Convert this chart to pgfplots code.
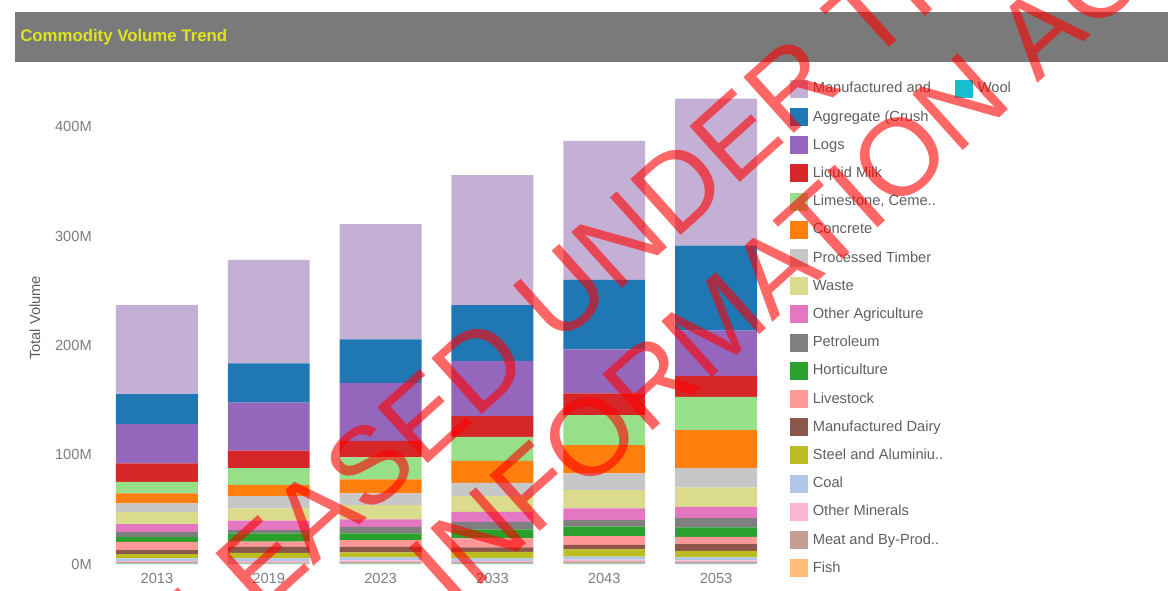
\documentclass[border=0pt]{standalone}
\usepackage{pgfplots}
\pgfplotsset{compat=1.18}
\usepackage{pgfplotstable}
\usepackage{fontspec}
\setmainfont{Liberation Sans}

% d3 category20 palette, as used by the report
\definecolor{cMan}{HTML}{C5B0D5}
\definecolor{cAgg}{HTML}{1F77B4}
\definecolor{cLogs}{HTML}{9467BD}
\definecolor{cMilk}{HTML}{D62728}
\definecolor{cLime}{HTML}{98DF8A}
\definecolor{cConc}{HTML}{FF7F0E}
\definecolor{cTimb}{HTML}{C7C7C7}
\definecolor{cWaste}{HTML}{DBDB8D}
\definecolor{cOAg}{HTML}{E377C2}
\definecolor{cPet}{HTML}{7F7F7F}
\definecolor{cHort}{HTML}{2CA02C}
\definecolor{cLive}{HTML}{FF9896}
\definecolor{cDairy}{HTML}{8C564B}
\definecolor{cSteel}{HTML}{BCBD22}
\definecolor{cCoal}{HTML}{AEC7E8}
\definecolor{cOMin}{HTML}{F7B6D2}
\definecolor{cMeat}{HTML}{C49C94}
\definecolor{cFish}{HTML}{FFBB78}
\definecolor{cWool}{HTML}{17BECF}
\definecolor{titlebar}{RGB}{122,122,122}
\definecolor{titletext}{RGB}{222,228,30}
\definecolor{ticktext}{RGB}{125,125,125}
\definecolor{legtext}{RGB}{95,95,95}

% volumes in millions, one row per year (x = 0..5)
\pgfplotstableread{
x Man   Agg  Logs Milk Lime Conc Timb Waste OAg  Pet Hort Live Dairy Steel Coal OMin Meat Fish Wool
0 81.4  27.4 36.0 16.8 10.6 9.1  7.7  11.3  7.0  4.6 4.6  7.6  3.7   3.9   2.3  1.0  1.0  0.5  0.3
1 94.5  36.0 43.9 16.1 15.3 10.1 11.3 11.3  8.5  3.0 7.7  4.6  5.5   5.1   2.4  1.2  0.8  0.5  0.3
2 105.5 39.7 53.1 15.2 20.1 12.8 10.7 13.1  6.8  6.0 6.1  6.1  5.1   4.6   2.8  1.3  1.0  0.6  0.4
3 118.9 51.0 50.6 18.9 22.0 20.1 12.2 14.4  9.1  7.0 8.2  8.2  4.0   6.0   2.3  1.2  0.9  0.5  0.3
4 127.2 63.4 40.3 19.9 27.4 25.9 15.3 16.7  10.7 6.1 8.5  8.2  3.9   6.8   2.8  1.6  1.2  0.7  0.4
5 134.5 77.8 41.2 19.2 30.5 34.8 17.7 17.7  10.3 8.6 8.5  6.7  6.1   6.1   2.6  1.4  1.1  0.6  0.3
}\vol

\newcommand{\stackbar}[2]{\addplot[fill=#1, draw=none, forget plot] table[x=x, y=#2] {\vol};}
\newcommand{\sw}[2]{\addlegendimage{legend image code/.code={\path (-5.25pt,0pt); \fill[#1] (0pt,-6.4pt) rectangle (12.75pt,6.4pt);}}\addlegendentry{#2}}
% empty cell in the second legend column
\newcommand{\gap}{\addlegendimage{empty legend}\addlegendentry{}}

\begin{document}
\begin{tikzpicture}
\path[use as bounding box] (0,0) rectangle (876pt,-442.5pt);

\begin{scope}[x=0.75pt, y=-0.75pt]
  \fill[titlebar] (15,12) rectangle (1168,62);
  \node[anchor=west, text=titletext, font=\bfseries\fontsize{12.6}{14}\selectfont, inner sep=0pt] at (20,37) {Commodity Volume Trend};
  \node[rotate=90, text=legtext, font=\fontsize{11}{13}\selectfont, inner sep=0pt] at (35,318) {Total Volume};
\end{scope}

\begin{axis}[
  at={(75.75pt,-423pt)}, anchor=south west,
  scale only axis, width=503.25pt, height=360.75pt,
  ybar stacked, bar width=0.733,
  xmin=-0.5, xmax=5.5, ymin=0, ymax=440,
  xtick={0,1,2,3,4,5},
  xticklabels={2013,2019,2023,2033,2043,2053},
  ytick={0,100,200,300,400},
  yticklabels={0M,100M,200M,300M,400M},
  axis line style={draw=none},
  major tick length=0pt,
  tick label style={text=ticktext, font=\fontsize{11}{13}\selectfont, inner sep=0pt},
  xticklabel style={anchor=center, yshift=-10.5pt},
  yticklabel style={anchor=east, xshift=-6.75pt},
  legend cell align=left,
  legend columns=2,
  legend style={at={(1.0164,1.0073)}, anchor=north west, draw=none, fill=none,
    inner sep=0pt, row sep=7.95pt, column sep=3.75pt,
    font=\fontsize{11}{13}\selectfont, text=legtext, nodes={inner sep=0pt}},
]
\stackbar{cWool}{Wool}
\stackbar{cFish}{Fish}
\stackbar{cMeat}{Meat}
\stackbar{cOMin}{OMin}
\stackbar{cCoal}{Coal}
\stackbar{cSteel}{Steel}
\stackbar{cDairy}{Dairy}
\stackbar{cLive}{Live}
\stackbar{cHort}{Hort}
\stackbar{cPet}{Pet}
\stackbar{cOAg}{OAg}
\stackbar{cWaste}{Waste}
\stackbar{cTimb}{Timb}
\stackbar{cConc}{Conc}
\stackbar{cLime}{Lime}
\stackbar{cMilk}{Milk}
\stackbar{cLogs}{Logs}
\stackbar{cAgg}{Agg}
\stackbar{cMan}{Man}

\sw{cMan}{Manufactured and}
\sw{cWool}{Wool}
\sw{cAgg}{Aggregate (Crush}\gap
\sw{cLogs}{Logs}\gap
\sw{cMilk}{Liquid Milk}\gap
\sw{cLime}{Limestone, Ceme..}\gap
\sw{cConc}{Concrete}\gap
\sw{cTimb}{Processed Timber}\gap
\sw{cWaste}{Waste}\gap
\sw{cOAg}{Other Agriculture}\gap
\sw{cPet}{Petroleum}\gap
\sw{cHort}{Horticulture}\gap
\sw{cLive}{Livestock}\gap
\sw{cDairy}{Manufactured Dairy}\gap
\sw{cSteel}{Steel and Aluminiu..}\gap
\sw{cCoal}{Coal}\gap
\sw{cOMin}{Other Minerals}\gap
\sw{cMeat}{Meat and By-Prod..}\gap
\sw{cFish}{Fish}
\end{axis}

% watermark stamped over the page
\begin{scope}[x=0.75pt, y=-0.75pt]
  \clip (0,0) rectangle (1168,590);
  \node[rotate=42, text=red, text opacity=0.6, font=\fontsize{82}{82}\selectfont, inner sep=0pt] at (541,311) {RELEASED UNDER THE};
  \node[rotate=42, text=red, text opacity=0.6, font=\fontsize{82}{82}\selectfont, inner sep=0pt] at (607,421) {OFFICIAL INFORMATION ACT};
\end{scope}
\end{tikzpicture}
\end{document}
